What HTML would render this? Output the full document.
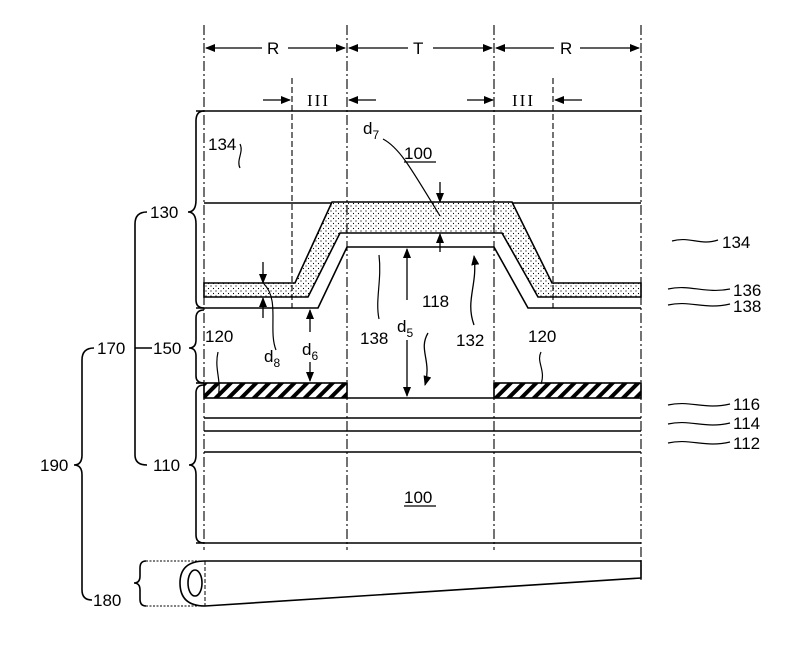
<!DOCTYPE html>
<html><head><meta charset="utf-8"><style>
html,body{margin:0;padding:0;background:#fff;}
svg{display:block;}
text{font-family:"Liberation Sans",sans-serif;font-size:17px;fill:#000;}
</style></head><body>
<svg width="800" height="645" viewBox="0 0 800 645" xmlns="http://www.w3.org/2000/svg">
<defs>
<pattern id="dots" width="5" height="5" patternUnits="userSpaceOnUse"><rect width="5" height="5" fill="#fff"/><circle cx="1" cy="1" r="0.6" fill="#000"/><circle cx="3.5" cy="3.5" r="0.6" fill="#000"/></pattern>
<pattern id="hatch" width="9" height="9" patternUnits="userSpaceOnUse" patternTransform="rotate(45)"><rect width="9" height="9" fill="#fff"/><rect width="4" height="9" fill="#000"/></pattern>
<marker id="ah" markerWidth="10" markerHeight="8" refX="9" refY="4" orient="auto" markerUnits="userSpaceOnUse"><path d="M0,0 L10,4 L0,8 z" fill="#000"/></marker>
</defs>
<g fill="none" stroke="#000" stroke-width="1.6">
<path d="M204,283 L295,283 L332,202 L512,202 L552,283 L641,283 L641,297 L538,297 L502,233 L340,233 L308,297 L204,297 Z" fill="url(#dots)"/>
<line x1="196" y1="111" x2="641" y2="111"/>
<line x1="204" y1="203" x2="332" y2="203"/><line x1="512" y1="203" x2="641" y2="203"/>
<path d="M196,308 L318,308 L347,247 L494,247 L528,308 L641,308"/>
<rect x="204" y="383" width="143" height="15" fill="url(#hatch)"/>
<rect x="494" y="383" width="147" height="15" fill="url(#hatch)"/>
<line x1="196" y1="383" x2="204" y2="383"/>
<line x1="347" y1="398" x2="494" y2="398"/>
<line x1="204" y1="418" x2="641" y2="418"/>
<line x1="204" y1="431" x2="641" y2="431"/>
<line x1="204" y1="452" x2="641" y2="452"/>
<line x1="196" y1="543" x2="641" y2="543"/>
<path d="M204,111 Q196,111 196,121 L196,200 Q196,212 188,212 Q196,212 196,224 L196,300 Q196,308 204,308"/>
<path d="M204,310 Q196,310 196,318 L196,340 Q196,348 189,348 Q196,348 196,356 L196,376 Q196,383 204,383"/>
<path d="M204,385 Q196,385 196,393 L196,455 Q196,465 189,465 Q196,465 196,475 L196,535 Q196,543 204,543"/>
<path d="M147,212 Q135,212 135,224 L135,455 Q135,465 147,465"/>
<line x1="135" y1="348" x2="152" y2="348"/>
<path d="M94,348 Q82,348 82,360 L82,455 Q82,465 74,465 Q82,465 82,475 L82,590 Q82,600 92,600"/>
<path d="M146,561 Q140,561 140,568 L140,576 Q140,583 134,583 Q140,583 140,590 L140,599 Q140,606 146,606"/>
<path d="M146,561 L205,561 M146,606 L205,606" stroke-dasharray="2,1.5" stroke-width="1"/>
<path d="M205,561 L641,561 L641,578 L205,606" />
<path d="M205,561 Q180,561 180,583 Q180,606 205,606"/>
<ellipse cx="195" cy="583" rx="7" ry="13"/>
<line x1="205" y1="561" x2="205" y2="606" stroke-dasharray="4,2" stroke-width="1"/>
</g>
<g stroke="#000" stroke-width="1.1" stroke-dasharray="10,3,2,3" fill="none">
<line x1="204" y1="25" x2="204" y2="550"/>
<line x1="347" y1="25" x2="347" y2="550"/>
<line x1="494" y1="25" x2="494" y2="550"/>
<line x1="641" y1="25" x2="641" y2="580"/>
</g>
<g stroke="#000" stroke-width="1.1" stroke-dasharray="6,3" fill="none">
<line x1="292" y1="78" x2="292" y2="308"/>
<line x1="553" y1="78" x2="553" y2="308"/>
</g>
<g stroke="#000" stroke-width="1.3" fill="none" marker-end="url(#ah)">
<line x1="262" y1="48" x2="206" y2="48"/><line x1="288" y1="48" x2="345" y2="48"/>
<line x1="408" y1="48" x2="349" y2="48"/><line x1="433" y1="48" x2="492" y2="48"/>
<line x1="554" y1="48" x2="496" y2="48"/><line x1="580" y1="48" x2="639" y2="48"/>
<line x1="263" y1="100" x2="290" y2="100"/><line x1="376" y1="100" x2="349" y2="100"/>
<line x1="467" y1="100" x2="493" y2="100"/><line x1="582" y1="100" x2="555" y2="100"/>
<line x1="440" y1="182" x2="440" y2="202"/><line x1="440" y1="252" x2="440" y2="234"/>
<line x1="263" y1="262" x2="263" y2="283"/><line x1="263" y1="318" x2="263" y2="298"/>
<line x1="310" y1="332" x2="310" y2="310"/><line x1="310" y1="362" x2="310" y2="381"/>
<line x1="407" y1="300" x2="407" y2="249"/><line x1="407" y1="340" x2="407" y2="396"/>
<path d="M428,333 C418,350 432,360 425,385"/>
<path d="M474,325 C465,300 478,285 474,256"/>
</g>
<g stroke="#000" stroke-width="1.2" fill="none">
<path d="M240,168 C236,160 244,152 240,144"/>
<path d="M383,139 C400,148 412,170 440,216"/>
<path d="M379,319 C375,300 382,280 379,255"/>
<path d="M264,284 C280,300 268,330 276,350"/>
<path d="M218,397 C222,380 214,370 218,352"/>
<path d="M541,384 C546,370 536,362 541,352"/>
<path d="M672,241 C690,236 700,246 718,240"/>
<path d="M668,289 C690,284 705,294 730,289"/>
<path d="M668,305 C690,300 705,310 730,304"/>
<path d="M668,405 C690,400 705,410 730,404"/>
<path d="M668,424 C690,419 705,429 730,423"/>
<path d="M668,443 C690,438 705,448 730,442"/>
</g>
<text x="267" y="54">R</text><text x="413" y="54">T</text><text x="560" y="54">R</text>
<text x="307" y="106" style="font-family:'Liberation Serif',serif" letter-spacing="2">III</text>
<text x="512" y="106" style="font-family:'Liberation Serif',serif" letter-spacing="2">III</text>
<text x="404" y="159">100</text><line x1="404" y1="162" x2="436" y2="162" stroke="#000" stroke-width="1.2"/>
<text x="404" y="503">100</text><line x1="404" y1="506" x2="436" y2="506" stroke="#000" stroke-width="1.2"/>
<text x="208" y="150">134</text>
<text x="363" y="134">d<tspan font-size="12" dy="5">7</tspan></text>
<text x="722" y="248">134</text>
<text x="733" y="296">136</text>
<text x="733" y="312">138</text>
<text x="733" y="410">116</text>
<text x="733" y="429">114</text>
<text x="733" y="449">112</text>
<text x="360" y="344">138</text>
<text x="397" y="332">d<tspan font-size="12" dy="5">5</tspan></text>
<text x="422" y="307">118</text>
<text x="456" y="346">132</text>
<text x="205" y="342">120</text>
<text x="528" y="342">120</text>
<text x="264" y="362">d<tspan font-size="12" dy="5">8</tspan></text>
<text x="302" y="355">d<tspan font-size="12" dy="5">6</tspan></text>
<text x="150" y="218">130</text>
<text x="97" y="354">170</text>
<text x="153" y="354">150</text>
<text x="153" y="471">110</text>
<text x="40" y="471">190</text>
<text x="93" y="606">180</text>
</svg>
</body></html>
